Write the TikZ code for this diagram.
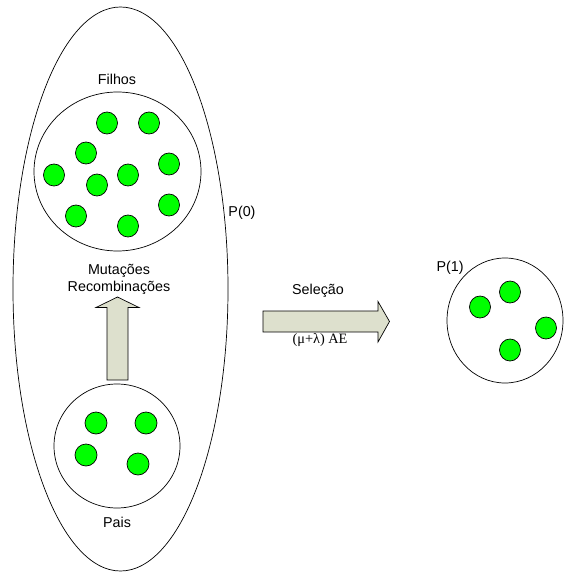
\documentclass[tikz,border=0pt]{standalone}
\usepackage{fontspec}
\setmainfont{Liberation Sans}
\newfontfamily\serifgr{Liberation Serif}
\begin{document}
\begin{tikzpicture}[x=1pt,y=-1pt,
  outline/.style={draw=black,line width=0.7pt},
  dot/.style={draw=black,line width=0.7pt,fill=dotgreen},
  blockarrow/.style={draw=black,line width=0.7pt,fill=arrowfill},
  lbl/.style={font=\fontsize{14.3}{16}\selectfont,inner sep=0pt},
  every node/.style={inner sep=0pt}]
\definecolor{dotgreen}{RGB}{0,255,0}
\definecolor{arrowfill}{RGB}{221,224,205}
\useasboundingbox (0,0) rectangle (563,572);
% population P(0)
\draw[outline] (120.5,289) ellipse [x radius=107.5, y radius=282];
% Filhos
\draw[outline] (117.5,171.5) ellipse [x radius=83.5, y radius=79.5];
\foreach \x/\y in {107/123,149/123,86/153,54/175,97/185,128/175,169/164,76/216,128/226,169/205}
  \draw[dot] (\x,\y) ellipse [x radius=10.5, y radius=11];
% Pais
\draw[outline] (117,446) ellipse [x radius=63, y radius=62];
\foreach \x/\y in {96/423,146/423,86/455,138/464}
  \draw[dot] (\x,\y) ellipse [x radius=11, y radius=11];
% P(1)
\draw[outline] (505,320.5) ellipse [x radius=58, y radius=62.5];
\foreach \x/\y in {480/307,510/292,546/328,510/350}
  \draw[dot] (\x,\y) ellipse [x radius=10.5, y radius=11];
% up arrow
\draw[blockarrow] (107,380) -- (107,307.5) -- (96,307.5) -- (117.5,297) -- (139,307.5) -- (128,307.5) -- (128,380) -- cycle;
% right arrow
\draw[blockarrow] (263,311) -- (378,311) -- (378,301.5) -- (389.5,321.5) -- (378,342) -- (378,332) -- (263,332) -- cycle;
% labels
\node[lbl] (filhos) at (117,79) {Filhos};
\node[lbl] (p0) at (242,213) {P(0)};
\node[lbl] (mut) at (119,271) {Mutações};
\node[lbl] (rec) at (119,288) {Recombinações};
\node[lbl] (pais) at (117,522) {Pais};
\node[lbl] (sel) at (318,291) {Seleção};
\node[lbl,font=\serifgr\fontsize{14.3}{16}\selectfont] (ae) at (320,340) {(μ+λ) AE};
\node[lbl] (p1) at (450,268) {P(1)};
\end{tikzpicture}
\end{document}
